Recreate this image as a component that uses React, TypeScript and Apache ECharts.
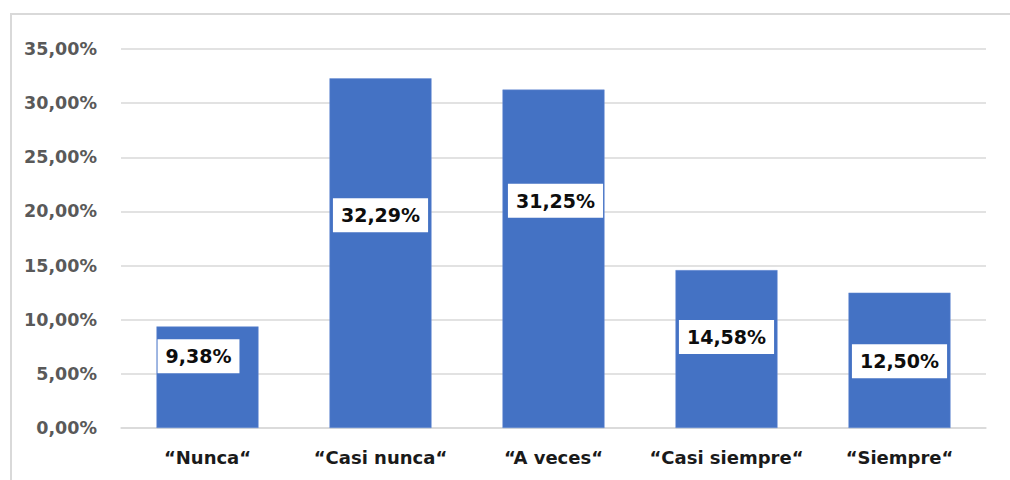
import React, { useEffect, useRef } from "react";
import * as echarts from "echarts";

const categories = ["“Nunca“", "“Casi nunca“", "“A veces“", "“Casi siempre“", "“Siempre“"];
const percentages = [9.38, 32.29, 31.25, 14.58, 12.5];
const yTicks = { min: 0, max: 35, interval: 5 };

// hand-placed data label nudges (px) relative to the bar centre
const labelNudges: [number, number][] = [
  [-9, -21],
  [0, -38],
  [2, -58],
  [0, -12],
  [0, 1],
];

const fmt = (v: number) => v.toFixed(2).replace(".", ",") + "%";

export default function App() {
  const ref = useRef<HTMLDivElement>(null);

  useEffect(() => {
    if (!ref.current) return;
    const chart = echarts.init(ref.current, undefined, { renderer: "svg" });
    const font = "'DejaVu Sans', Verdana, sans-serif";
    chart.setOption({
      animation: false,
      backgroundColor: "#ffffff",
      grid: { left: 121, right: 24, top: 49, bottom: 52, containLabel: false },
      graphic: [
        {
          type: "rect",
          shape: { x: 11, y: 14, width: 1010, height: 480 },
          style: { fill: "none", stroke: "#d9d9d9", lineWidth: 2 },
          silent: true,
        },
      ],
      xAxis: {
        type: "category",
        data: categories,
        axisLine: { lineStyle: { color: "#d9d9d9", width: 1.5 } },
        axisTick: { show: false },
        axisLabel: {
          interval: 0,
          color: "#1a1a1a",
          fontFamily: font,
          fontWeight: "bold",
          fontSize: 18,
          margin: 20,
        },
      },
      yAxis: {
        type: "value",
        min: yTicks.min,
        max: yTicks.max,
        interval: yTicks.interval,
        axisLine: { show: false },
        axisTick: { show: false },
        splitLine: { lineStyle: { color: "#d9d9d9", width: 1.5 } },
        axisLabel: {
          color: "#595959",
          fontFamily: font,
          fontWeight: "bold",
          fontSize: 17.5,
          margin: 24,
          formatter: (v: number) => fmt(v),
        },
      },
      series: [
        {
          type: "bar",
          barCategoryGap: "41%",
          itemStyle: { color: "#4472C4", borderColor: "#6a8fd4", borderWidth: 0.5 },
          data: percentages.map((v, i) => ({
            value: v,
            label: { offset: labelNudges[i] },
          })),
          label: {
            show: true,
            position: "inside",
            formatter: (p: any) => fmt(p.value),
            color: "#0d0d0d",
            fontFamily: font,
            fontWeight: "bold",
            fontSize: 19,
            backgroundColor: "#ffffff",
            padding: [8, 8, 7, 8],
          },
        },
      ],
    });
    return () => chart.dispose();
  }, []);

  return (
    <div
      ref={ref}
      style={{ position: "fixed", left: 0, top: 0, width: 1010, height: 480 }}
    />
  );
}
